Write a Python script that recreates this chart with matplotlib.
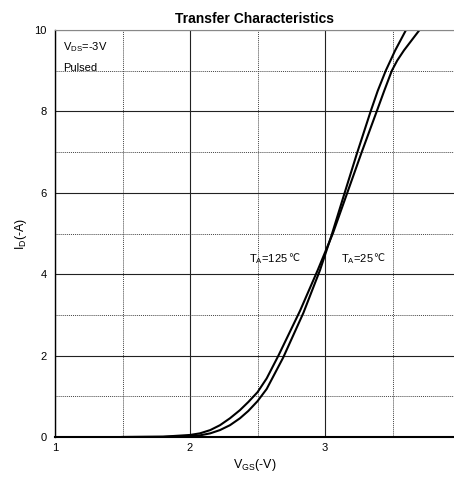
import numpy as np
import matplotlib
matplotlib.use('Agg')
from matplotlib import pyplot as plt
from matplotlib.ticker import MultipleLocator

plt.rcParams['font.family'] = ['Liberation Sans', 'DejaVu Sans']

vgs_25 = [1.5, 1.8, 2.0, 2.074, 2.15, 2.222, 2.296, 2.37, 2.432, 2.5, 2.568, 2.69, 2.84, 2.963,
          3.048, 3.141, 3.235, 3.338, 3.39, 3.45, 3.52, 3.60]
id_25 = [0.0, 0.003, 0.02, 0.04, 0.09, 0.17, 0.29, 0.46, 0.64, 0.88, 1.18, 1.95, 3.05, 4.1,
         4.95, 5.95, 6.95, 8.0, 8.5, 9.0, 9.5, 10.0]
vgs_125 = [1.5, 1.8, 2.0, 2.074, 2.15, 2.222, 2.296, 2.37, 2.432, 2.5, 2.568, 2.655, 2.815, 2.946,
           3.058, 3.165, 3.272, 3.383, 3.438, 3.495, 3.535, 3.585, 3.70]
id_125 = [0.0, 0.008, 0.05, 0.09, 0.17, 0.29, 0.46, 0.66, 0.86, 1.1, 1.44, 2.0, 3.1, 4.1,
          5.0, 6.0, 7.0, 8.0, 8.5, 9.0, 9.25, 9.5, 10.0]

x_ticks = [1, 2, 3]
y_ticks = [0, 2, 4, 6, 8, 10]

fig = plt.figure(figsize=(4.54, 4.83), dpi=100)
ax = fig.add_axes([55/454, 1 - 437/483, 1 - 55/454, (437 - 30)/483])

ax.plot(vgs_25, id_25, color='black', lw=1.5, solid_joinstyle='round')
ax.plot(vgs_125, id_125, color='black', lw=1.5, solid_joinstyle='round')

ax.set_xlim(1, 1 + (454 - 55)/135)
ax.set_ylim(0, 10)
ax.set_xticks(x_ticks)
ax.set_yticks(y_ticks)
ax.xaxis.set_minor_locator(MultipleLocator(0.5))
ax.yaxis.set_minor_locator(MultipleLocator(1))
ax.tick_params(which='both', length=0, labelsize=8)
ax.tick_params(axis='y', pad=6)
ax.tick_params(axis='x', pad=4)
ax.grid(which='major', color='#222222', lw=0.8)
ax.grid(which='minor', color='#444444', lw=0.7, linestyle=(0, (1, 1)))
ax.set_axisbelow(True)

ax.spines['right'].set_visible(False)
ax.spines['top'].set_color('#888888')
ax.spines['left'].set_linewidth(1.0)
ax.spines['bottom'].set_linewidth(1.5)

ax.set_title('Transfer Characteristics', fontsize=10, fontweight='bold', pad=5)
ax.set_xlabel('V$_{\\mathregular{GS}}$(-V)', fontsize=9, labelpad=3)
ax.set_ylabel('I$_{\\mathregular{D}}$(-A)', fontsize=9, labelpad=4)

ax.text(1.06, 9.75, 'V$_{\\mathregular{DS}}$=-3V', fontsize=8, va='top')
ax.text(1.06, 9.2, 'Pulsed', fontsize=8, va='top')
for xt, lab in [(2.44, 'T$_{\\mathregular{A}}$=125'), (3.12, 'T$_{\\mathregular{A}}$=25')]:
    t = ax.text(xt, 4.3, lab, fontsize=8)
    ax.annotate('\u2103', xy=(1, 1), xycoords=t, va='top', ha='left',
                xytext=(-0.3, -0.8), textcoords='offset points',
                fontsize=7, family='DejaVu Sans')

fig.savefig('out.png', dpi=100)
